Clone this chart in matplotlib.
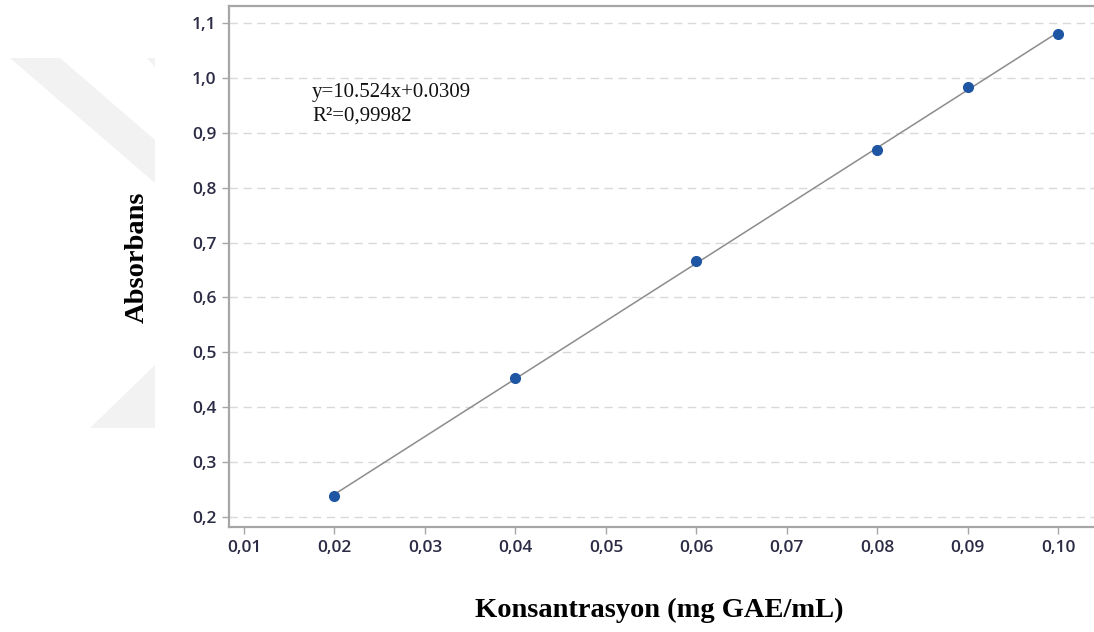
import matplotlib
matplotlib.use("Agg")
import matplotlib.pyplot as plt
from matplotlib.patches import Polygon

# Calibration standard (gallic acid) readings
konsantrasyon = [0.02, 0.04, 0.06, 0.08, 0.09, 0.10]
absorbans = [0.239, 0.453, 0.666, 0.868, 0.983, 1.080]

# Regression reported for the standard curve
egim = 10.524
kesim = 0.0309
r2_text = "0,99982"

x_ticks = [0.01, 0.02, 0.03, 0.04, 0.05, 0.06, 0.07, 0.08, 0.09, 0.10]
x_tick_labels = ["0,01", "0,02", "0,03", "0,04", "0,05", "0,06", "0,07", "0,08", "0,09", "0,10"]
y_ticks = [0.2, 0.3, 0.4, 0.5, 0.6, 0.7, 0.8, 0.9, 1.0, 1.1]
y_tick_labels = ["0,2", "0,3", "0,4", "0,5", "0,6", "0,7", "0,8", "0,9", "1,0", "1,1"]

fig = plt.figure(figsize=(10.94, 6.32), dpi=100)

# faint watermark shapes behind the plot
wm = "#f2f2f2"
for pts in [
    [(10, 58), (60, 58), (155, 140), (155, 183)],
    [(147, 58), (155, 58), (155, 67)],
    [(90, 428), (155, 365), (155, 428)],
]:
    fig.patches.append(Polygon([(x / 1094, 1 - y / 632) for x, y in pts],
                               closed=True, transform=fig.transFigure,
                               facecolor=wm, edgecolor="none", zorder=0))

ax = fig.add_axes([229 / 1094, 105 / 632, 0.82, 521 / 632])
ax.set_facecolor("none")

ax.set_xlim(0.00834, 0.1075)
ax.set_ylim(0.1818, 1.131)

for side in ["left", "bottom", "top"]:
    ax.spines[side].set_color("#a6a6a6")
    ax.spines[side].set_linewidth(1.6)
ax.spines["right"].set_visible(False)

ax.set_xticks(x_ticks)
ax.set_xticklabels(x_tick_labels)
ax.set_yticks(y_ticks)
ax.set_yticklabels(y_tick_labels)
ax.tick_params(axis="both", length=5, width=1, color="#a6a6a6", pad=4,
               labelsize=12.5, labelcolor="#2b2b45")
for lbl in ax.get_xticklabels() + ax.get_yticklabels():
    lbl.set_fontfamily("Open Sans")
    lbl.set_fontweight("semibold")

ax.yaxis.grid(True, linestyle=(0, (6, 4)), color="#d9d9d9", linewidth=1)
ax.set_axisbelow(True)

# fitted line across the measured range
fx = [konsantrasyon[0], konsantrasyon[-1]]
fy = [egim * v + kesim for v in fx]
ax.plot(fx, fy, color="#8c8c8c", linewidth=1.1, zorder=2)
ax.plot(konsantrasyon, absorbans, linestyle="none", marker="o", markersize=7,
        color="#1f56a3", markeredgecolor="#1f56a3", zorder=3)

ax.text(312 / 1094, 1 - 93 / 632, f"y={egim}x+{kesim}", transform=fig.transFigure,
        fontfamily="Liberation Serif", fontsize=15, color="#111111", va="center")
ax.text(312 / 1094, 1 - 116 / 632, "R\u00b2=" + r2_text, transform=fig.transFigure,
        fontfamily="Liberation Serif", fontsize=15, color="#111111", va="center")

fig.text(137 / 1094, 1 - 257 / 632, "Absorbans", rotation=90, ha="center", va="center",
         fontfamily="Liberation Serif", fontweight="bold", fontsize=20.5)
fig.text(659 / 1094, 1 - 610 / 632, "Konsantrasyon (mg GAE/mL)", ha="center", va="center",
         fontfamily="Liberation Serif", fontweight="bold", fontsize=20.5)

fig.savefig("out.png", dpi=100)
